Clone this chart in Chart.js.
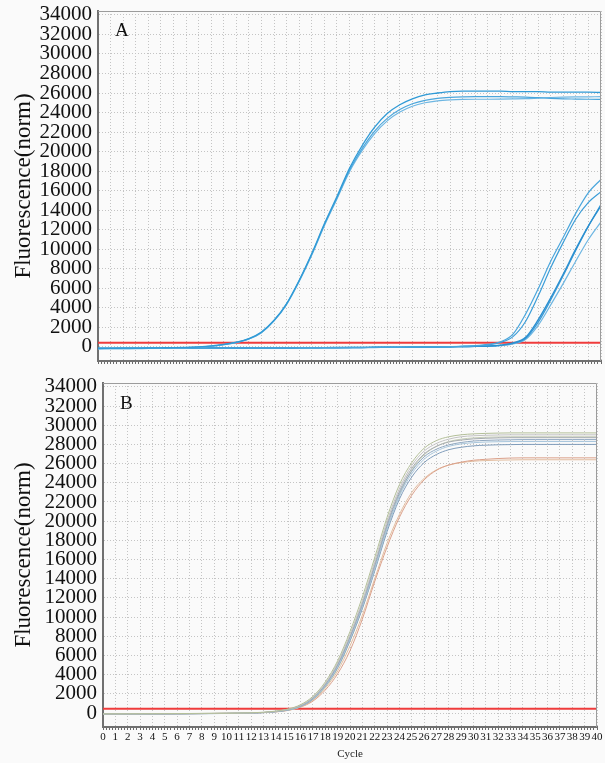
<!DOCTYPE html>
<html>
<head>
<meta charset="utf-8">
<script src="https://cdn.jsdelivr.net/npm/chart.js@4.4.1/dist/chart.umd.min.js"></script>
<style>
  html, body { margin: 0; padding: 0; background: #fafafa; }
  #wrap { position: relative; width: 605px; height: 763px; }
  canvas { position: absolute; left: 0; }
  #cA { top: 0; }
  #cB { top: 372px; }
</style>
</head>
<body>
<div id="wrap">
  <canvas id="cA" width="605" height="372"></canvas>
  <canvas id="cB" width="605" height="391"></canvas>
</div>
<script>
// ---------- DATA ----------
const cycles = [0,1,2,3,4,5,6,7,8,9,10,11,12,13,14,15,16,17,18,19,20,21,22,23,24,25,26,27,28,29,30,31,32,33,34,35,36,37,38,39,40];
const yTickValues = [0,2000,4000,6000,8000,10000,12000,14000,16000,18000,20000,22000,24000,26000,28000,30000,32000,34000];
const thresholdA = 430;
const thresholdB = 460;

// Panel A - early amplifying group
const A1 = [-150,-150,-140,-130,-120,-100,-80,-50,0,90,250,480,850,1520,2720,4430,6820,9560,12600,15400,18300,20600,22500,23900,24800,25400,25800,26000,26150,26200,26200,26200,26200,26150,26150,26150,26100,26100,26100,26100,26050];
const A2 = [-180,-170,-160,-150,-140,-120,-100,-70,-20,70,230,450,820,1480,2680,4380,6760,9480,12500,15250,18100,20300,22100,23400,24300,24900,25250,25450,25550,25600,25620,25620,25620,25600,25580,25520,25450,25400,25380,25360,25350];
const A3 = [-200,-190,-180,-170,-160,-140,-110,-80,-30,60,220,430,800,1450,2650,4350,6700,9400,12400,15150,17950,20100,21850,23150,24050,24650,25000,25200,25300,25350,25360,25360,25370,25390,25420,25480,25540,25580,25600,25610,25620];
// Panel A - late amplifying group
const L1 = [-150,-150,-150,-150,-150,-150,-150,-140,-140,-130,-130,-120,-120,-110,-100,-100,-90,-80,-80,-70,-60,-50,-40,-30,-20,-10,0,10,30,60,120,250,520,1300,3350,5930,8770,11220,13700,15800,17150];
const L2 = [-170,-170,-170,-170,-165,-165,-160,-160,-155,-150,-145,-140,-135,-130,-120,-115,-110,-100,-95,-90,-80,-70,-60,-50,-40,-30,-20,-10,10,40,90,200,450,1050,2600,5200,8100,10700,13100,14800,15900];
const L3 = [-140,-140,-140,-140,-135,-135,-130,-130,-125,-120,-115,-110,-105,-100,-95,-90,-85,-80,-75,-70,-60,-50,-45,-40,-30,-20,-10,0,10,30,50,80,180,400,970,2760,5010,7460,10030,12400,14450];
const L3b = [-160,-160,-160,-155,-155,-150,-150,-145,-140,-140,-135,-130,-125,-120,-115,-110,-100,-95,-90,-85,-80,-70,-60,-50,-45,-35,-25,-15,0,20,40,60,150,350,850,2500,4800,7300,9900,12350,14600];
const L4 = [-180,-180,-175,-175,-170,-170,-165,-160,-160,-155,-150,-145,-140,-135,-130,-125,-120,-110,-105,-100,-90,-80,-70,-60,-50,-40,-30,-20,-5,15,35,50,120,300,750,2200,4300,6500,8800,11000,12800];

// Panel B
const B1 = [-80,-80,-75,-70,-65,-60,-50,-40,-30,-20,-10,5,30,90,210,430,880,1750,3250,5450,8500,12100,16200,20400,23800,26100,27600,28400,28800,29000,29100,29150,29180,29200,29200,29200,29200,29200,29200,29200,29200];
const B2 = [-90,-90,-85,-80,-75,-70,-60,-50,-40,-30,-20,0,20,75,185,400,820,1650,3100,5250,8200,11700,15800,20000,23400,25800,27300,28100,28550,28800,28900,28950,28980,29000,29000,29000,29000,29000,29000,29000,29000];
const B3 = [-100,-100,-95,-90,-85,-80,-70,-60,-50,-40,-30,-15,10,65,170,370,780,1600,3000,5100,8000,11500,15500,19700,23100,25500,27000,27800,28250,28450,28580,28640,28680,28700,28700,28700,28700,28700,28700,28700,28700];
const B4 = [-100,-100,-95,-90,-85,-80,-70,-60,-50,-40,-30,-15,10,60,160,350,750,1550,2950,5000,7900,11300,15300,19500,22900,25200,26700,27500,27950,28200,28350,28420,28460,28480,28500,28500,28500,28500,28500,28500,28500];
const B5 = [-110,-110,-105,-100,-95,-90,-80,-70,-60,-50,-40,-25,0,50,150,330,720,1500,2850,4850,7700,11100,15000,19200,22600,24950,26450,27300,27800,28050,28180,28250,28280,28300,28300,28300,28300,28300,28300,28300,28300];
const B6 = [-110,-110,-105,-100,-95,-90,-80,-70,-60,-50,-40,-25,0,45,140,320,700,1450,2800,4750,7550,10900,14800,18900,22300,24600,26100,26950,27450,27700,27850,27920,27960,27980,28000,28000,28000,28000,28000,28000,28000];
const B7 = [-90,-90,-85,-80,-75,-70,-60,-50,-40,-30,-20,-5,20,60,150,300,650,1400,2700,4650,7500,10900,14900,19100,22700,25300,26900,27800,28300,28550,28680,28750,28780,28800,28800,28800,28800,28800,28800,28800,28800];
const B8 = [-100,-100,-95,-90,-85,-80,-70,-60,-50,-40,-30,-15,5,50,130,280,620,1250,2400,4100,6500,9800,13700,17300,20400,22700,24300,25300,25850,26150,26350,26450,26530,26580,26600,26600,26600,26600,26600,26600,26600];
const B9 = [-100,-100,-95,-90,-85,-80,-70,-60,-50,-40,-30,-15,10,55,140,300,660,1350,2600,4400,7000,10200,14000,17700,20700,23000,24450,25350,25850,26100,26250,26320,26360,26380,26400,26400,26400,26400,26400,26400,26400];

// ---------- CHART HELPERS ----------
const SERIF = '"Liberation Serif", "Times New Roman", serif';
const pts = arr => cycles.map((c, i) => ({ x: c, y: arr[i] }));
const flat = v => cycles.map(c => ({ x: c, y: v }));
const isInt = v => Math.abs(v - Math.round(v)) < 1e-6;

const framePlugin = {
  id: 'frame',
  afterDraw(chart, args, opts) {
    const { ctx, chartArea: a } = chart;
    ctx.save();
    ctx.strokeStyle = '#9c9c9c';
    ctx.lineWidth = 1;
    ctx.beginPath();
    ctx.moveTo(a.left, a.top + 0.5);
    ctx.lineTo(a.right - 0.5, a.top + 0.5);
    ctx.lineTo(a.right - 0.5, a.bottom);
    ctx.stroke();
    ctx.fillStyle = '#111';
    ctx.font = '19px ' + SERIF;
    ctx.textBaseline = 'middle';
    ctx.textAlign = 'left';
    ctx.fillText(opts.letter, a.left + 17, a.top + opts.letterDy);
    ctx.restore();
  }
};

function line(data, color, width) {
  return {
    data, borderColor: color, borderWidth: width, pointRadius: 0,
    fill: false, cubicInterpolationMode: 'monotone'
  };
}

function makeChart(id, datasets, cfg) {
  return new Chart(document.getElementById(id), {
    type: 'line',
    data: { datasets },
    plugins: [framePlugin],
    options: {
      responsive: false,
      animation: false,
      devicePixelRatio: 1,
      layout: { padding: { left: 0, top: cfg.padTop, right: cfg.padRight, bottom: 0 } },
      plugins: {
        legend: { display: false },
        tooltip: { enabled: false },
        frame: { letter: cfg.letter, letterDy: cfg.letterDy }
      },
      scales: {
        x: {
          type: 'linear',
          min: 0, max: 40,
          afterFit: s => { s.height = cfg.xHeight; s.paddingLeft = 0; s.paddingRight = 0; },
          ticks: {
            display: cfg.showX,
            stepSize: 0.25,
            autoSkip: false,
            minRotation: 0, maxRotation: 0,
            padding: 1,
            color: '#111',
            font: { family: SERIF, size: 11 },
            callback: v => isInt(v) ? String(Math.round(v)) : ''
          },
          grid: {
            color: ctx => (ctx.tick && isInt(ctx.tick.value)) ? '#c4c4c4' : 'rgba(0,0,0,0)',
            tickColor: '#6a6a6a',
            tickLength: 3,
            lineWidth: 1
          },
          border: { color: '#707070', width: 2, dash: [1, 2] },
          title: {
            display: cfg.showX,
            text: 'Cycle',
            color: '#222',
            font: { family: SERIF, size: 11 },
            padding: { top: 0, bottom: 2 }
          }
        },
        y: {
          min: -1450, max: 34400,
          afterFit: s => { s.width = cfg.yWidth; s.paddingTop = 0; s.paddingBottom = 0; },
          afterBuildTicks: s => { s.ticks = yTickValues.map(v => ({ value: v })); },
          ticks: {
            color: '#111',
            padding: 6,
            autoSkip: false,
            font: { family: SERIF, size: 21 },
            callback: v => String(v)
          },
          grid: { color: '#c4c4c4', drawTicks: false, lineWidth: 1 },
          border: { color: '#707070', width: 2, dash: [1, 2] },
          title: {
            display: true,
            text: 'Fluorescence(norm)',
            color: '#111',
            font: { family: SERIF, size: 23 },
            padding: { top: 10, bottom: 0 }
          }
        }
      }
    }
  });
}

makeChart('cA', [
  line(pts(A1), '#2f9ad6', 1.3),
  line(pts(A2), '#4aa6dc', 1.2),
  line(pts(A3), '#6db6e2', 1.2),
  line(pts(L1), '#4aa6dc', 1.2),
  line(pts(L2), '#3b9dd8', 1.2),
  line(pts(L3), '#2a8fd0', 1.4),
  line(pts(L3b), '#3a9ad6', 1.2),
  line(pts(L4), '#6db6e2', 1.2),
  line(flat(thresholdA), '#ef3b3b', 2)
], { padTop: 11, padRight: 4, xHeight: 11, yWidth: 98, showX: false, letter: 'A', letterDy: 20 });

makeChart('cB', [
  line(pts(B1), '#b3bf98', 1),
  line(pts(B2), '#c2c2c2', 1),
  line(pts(B3), '#a6abb0', 1),
  line(pts(B4), '#8ea7c0', 1),
  line(pts(B5), '#a8c6dc', 1),
  line(pts(B6), '#7f9cba', 1),
  line(pts(B7), '#c6ceb6', 1),
  line(pts(B8), '#dba08a', 1),
  line(pts(B9), '#e2bd9f', 1),
  line(flat(thresholdB), '#ef3b3b', 2)
], { padTop: 11, padRight: 8, xHeight: 36, yWidth: 103, showX: true, letter: 'B', letterDy: 21 });
</script>
</body>
</html>
